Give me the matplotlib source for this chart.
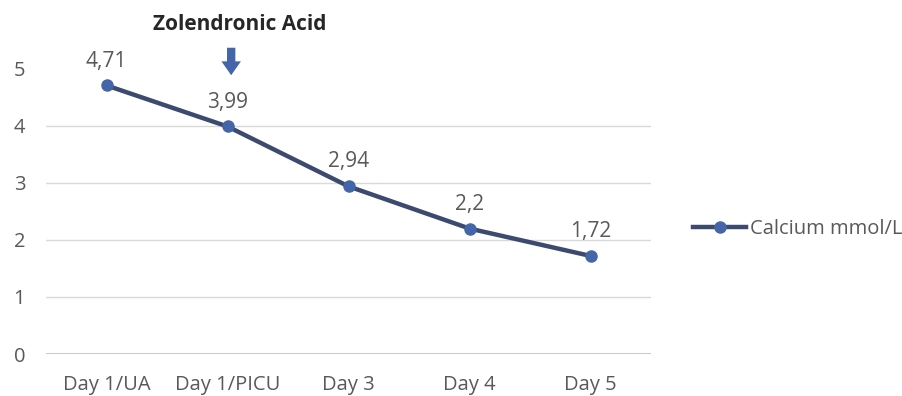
import matplotlib.pyplot as plt

plt.rcParams['font.family'] = ['Open Sans', 'DejaVu Sans']

days = ['Day 1/UA', 'Day 1/PICU', 'Day 3', 'Day 4', 'Day 5']
calcium = [4.71, 3.99, 2.94, 2.2, 1.72]
calcium_labels = ['4,71', '3,99', '2,94', '2,2', '1,72']
yticks = [0, 1, 2, 3, 4, 5]

line_col = '#3b4a6e'
marker_col = '#4466a8'
text_col = '#595959'

fig = plt.figure(figsize=(9.03, 3.96), dpi=100)
ax = fig.add_axes([0.051, 0.106, 0.67, 0.72])

x = list(range(len(days)))
ax.plot(x, calcium, color=line_col, lw=3.2, marker='o', ms=8,
        mfc=marker_col, mec=marker_col, label='Calcium mmol/L', zorder=3)

for xi, v, lab in zip(x, calcium, calcium_labels):
    ax.annotate(lab, (xi, v), xytext=(0, 10), textcoords='offset points',
                ha='center', va='bottom', fontsize=15, color=text_col)

# gridlines (none drawn at the top value)
for t in yticks[1:-1]:
    ax.axhline(t, color='#d9d9d9', lw=1, zorder=0)
ax.axhline(0, color='#bfbfbf', lw=1.2, zorder=0)

ax.set_xlim(-0.5, len(days) - 0.5)
ax.set_ylim(0, 5)
ax.set_xticks(x)
ax.set_xticklabels(days)
ax.set_yticks(yticks)
ax.tick_params(length=0, labelsize=14.5, colors=text_col)
ax.tick_params(axis='x', pad=15)
ax.tick_params(axis='y', pad=15)
for s in ax.spines.values():
    s.set_visible(False)

# drug administration marker
ax.annotate('', xy=(1.03, 4.84), xytext=(1.03, 5.42),
            arrowprops=dict(arrowstyle='simple,head_width=1.4,head_length=1.0,tail_width=0.6',
                            color=marker_col, lw=0),
            annotation_clip=False)
ax.text(1.1, 5.77, 'Zolendronic Acid', ha='center', va='center',
        fontsize=15, fontweight='bold', color='#262626', clip_on=False)

ax.legend(loc='center left', bbox_to_anchor=(1.04, 0.44), frameon=False,
          fontsize=14.5, labelcolor=text_col, handlelength=2.6, handletextpad=0.2)

fig.savefig('out.png', dpi=100)
